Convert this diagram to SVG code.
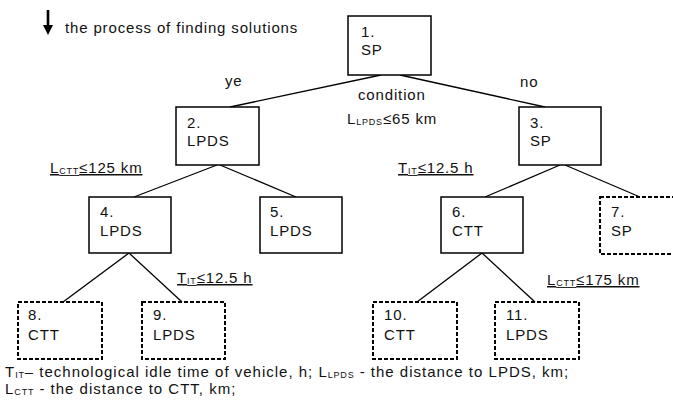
<svg xmlns="http://www.w3.org/2000/svg" width="673" height="402" viewBox="0 0 673 402">
<style>
text{font-family:"Liberation Sans",Arial,sans-serif;fill:#111;font-size:15px;letter-spacing:0.85px;}
.s{font-size:9px;letter-spacing:0.8px;}
.f{letter-spacing:1px;}
.u{text-decoration:underline;}
.box{fill:#fff;stroke:#000;stroke-width:1.5;}
.dbox{fill:#fff;stroke:#000;stroke-width:2;stroke-dasharray:4 2;}
.ln{stroke:#000;stroke-width:1.3;fill:none;}
</style>
<rect width="673" height="402" fill="#fff"/>
<g id="legend">
<line x1="48" y1="10" x2="48" y2="28" stroke="#000" stroke-width="2.6"/>
<polygon points="43,25 53,25 48,35" fill="#000"/>
<text x="65" y="33">the process of finding solutions</text>
</g>
<g id="connectors">
<line class="ln" x1="381" y1="75" x2="230" y2="107"/>
<line class="ln" x1="400" y1="75" x2="545" y2="107"/>
<line class="ln" x1="217" y1="165" x2="134" y2="197"/>
<line class="ln" x1="220" y1="165" x2="296" y2="197"/>
<line class="ln" x1="560" y1="165" x2="485" y2="197"/>
<line class="ln" x1="565" y1="165" x2="640" y2="197"/>
<line class="ln" x1="129" y1="253" x2="63" y2="302"/>
<line class="ln" x1="129" y1="253" x2="182" y2="302"/>
<line class="ln" x1="482" y1="253" x2="417" y2="302"/>
<line class="ln" x1="482" y1="253" x2="535" y2="302"/>
</g>
<g id="n1"><rect class="box" x="348" y="16" width="83" height="59"/><text x="361" y="37">1.</text><text x="361" y="55">SP</text></g>
<g id="n2"><rect class="box" x="176" y="107" width="83" height="58"/><text x="187" y="128">2.</text><text x="187" y="146">LPDS</text></g>
<g id="n3"><rect class="box" x="519" y="107" width="82" height="58"/><text x="530" y="128">3.</text><text x="530" y="146">SP</text></g>
<g id="n4"><rect class="box" x="89" y="197" width="82" height="56"/><text x="100" y="217">4.</text><text x="100" y="236">LPDS</text></g>
<g id="n5"><rect class="box" x="260" y="197" width="82" height="56"/><text x="270" y="217">5.</text><text x="270" y="236">LPDS</text></g>
<g id="n6"><rect class="box" x="441" y="197" width="82" height="56"/><text x="452" y="217">6.</text><text x="452" y="236">CTT</text></g>
<g id="n7"><rect class="dbox" x="600" y="197" width="82" height="57"/><text x="611" y="217">7.</text><text x="611" y="236">SP</text></g>
<g id="n8"><rect class="dbox" x="18" y="302" width="84" height="57"/><text x="28" y="320">8.</text><text x="28" y="340">CTT</text></g>
<g id="n9"><rect class="dbox" x="142" y="302" width="83" height="57"/><text x="153" y="320">9.</text><text x="153" y="340">LPDS</text></g>
<g id="n10"><rect class="dbox" x="373" y="302" width="84" height="57"/><text x="384" y="320">10.</text><text x="384" y="340">CTT</text></g>
<g id="n11"><rect class="dbox" x="495" y="302" width="84" height="57"/><text x="506" y="320">11.</text><text x="506" y="340">LPDS</text></g>
<g id="labels">
<text x="225" y="86">ye</text>
<text x="520" y="87">no</text>
<text x="358" y="100">condition</text>
<text x="347" y="124">L<tspan class="s" dy="1">LPDS</tspan><tspan dy="-1">≤65 km</tspan></text>
<text class="u" x="50" y="173">L<tspan class="s" dy="1">CTT</tspan><tspan dy="-1">≤125 km</tspan></text>
<text class="u" x="398" y="173">T<tspan class="s" dy="1">IT</tspan><tspan dy="-1">≤12.5 h</tspan></text>
<text class="u" x="177" y="283">T<tspan class="s" dy="1">IT</tspan><tspan dy="-1">≤12.5 h</tspan></text>
<text class="u" x="547" y="285">L<tspan class="s" dy="1">CTT</tspan><tspan dy="-1">≤175 km</tspan></text>
<text class="f" x="5" y="377">T<tspan class="s" dy="1">IT</tspan><tspan dy="-1">– technological idle time of vehicle, h; L</tspan><tspan class="s" dy="1">LPDS</tspan><tspan dy="-1"> - the distance to LPDS, km;</tspan></text>
<text class="f" x="5" y="394">L<tspan class="s" dy="1">CTT</tspan><tspan dy="-1"> - the distance to CTT, km;</tspan></text>
</g>
</svg>
